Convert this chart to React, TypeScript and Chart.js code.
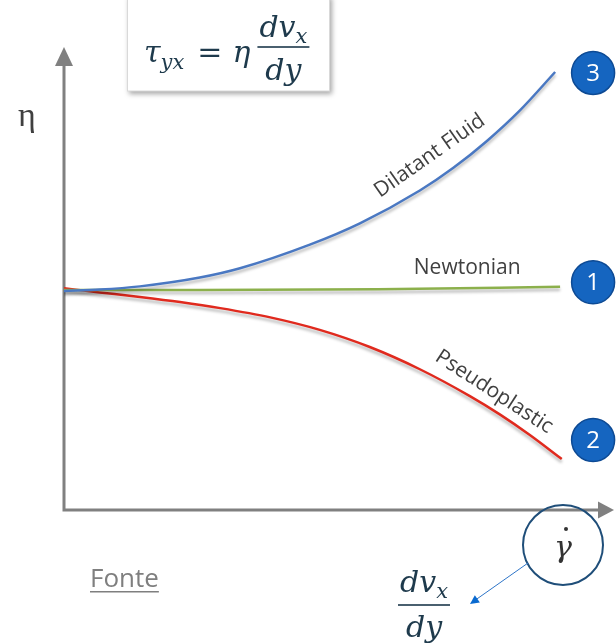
import React, { useEffect, useRef } from "react";
import { Chart, registerables } from "chart.js";

Chart.register(...registerables);

// Curve data (x: shear rate, y: viscosity), arbitrary units 0..100
const dilatantX = [0, 6.5, 13.8, 24.7, 32, 44.7, 53.8, 64.7, 70.8, 76.9, 82.9, 89.3];
const dilatantY = [47.3, 47.6, 48.3, 50.2, 52.2, 57.3, 61.9, 69.0, 73.9, 79.7, 86.3, 94.6];
const newtonianX = [0, 24.7, 57.1, 90.2];
const newtonianY = [47.5, 47.5, 47.7, 48.2];
const pseudoX = [0, 6.5, 13.8, 21.1, 28.4, 37.5, 46.5, 55.6, 64.7, 73.8, 79.3, 84.7, 90.5];
const pseudoY = [47.9, 47.0, 46.0, 44.9, 43.6, 41.6, 38.9, 35.2, 30.4, 24.6, 20.6, 16.2, 11.0];

// Annotation texts and their anchors in data units
const curveLabels = ["Dilatant Fluid", "Newtonian", "Pseudoplastic"];
const curveLabelX = [66.5, 73.3, 78.2];
const curveLabelY = [76.5, 52.3, 25.5];
const curveLabelAngle = [-35, 0, 33];
const badgeTexts = ["3", "1", "2"];
const badgeX = [96.2, 96.2, 96.2];
const badgeY = [94.4, 49.2, 15.1];
const yAxisLabel = "η";
const sourceLabel = "Fonte";

const MATH = "'DejaVu Serif', serif";
const SANS = "'Open Sans', 'Noto Sans', sans-serif";

type Run = { t: string; size: number; italic?: boolean; dy?: number; gap?: number };

function runsWidth(ctx: CanvasRenderingContext2D, runs: Run[]) {
  let w = 0;
  for (const r of runs) {
    ctx.font = `${r.italic ? "italic " : ""}${r.size}px ${MATH}`;
    w += ctx.measureText(r.t).width + (r.gap || 0);
  }
  return w;
}
function drawRuns(ctx: CanvasRenderingContext2D, x: number, y: number, runs: Run[]) {
  for (const r of runs) {
    ctx.font = `${r.italic ? "italic " : ""}${r.size}px ${MATH}`;
    ctx.fillText(r.t, x, y + (r.dy || 0));
    x += ctx.measureText(r.t).width + (r.gap || 0);
  }
  return x;
}
function drawFraction(ctx: CanvasRenderingContext2D, cx: number, barY: number, num: Run[], den: Run[], numBase: number, denBase: number) {
  const wn = runsWidth(ctx, num);
  const wd = runsWidth(ctx, den);
  const w = Math.max(wn, wd) + 4;
  drawRuns(ctx, cx - wn / 2, numBase, num);
  drawRuns(ctx, cx - wd / 2, denBase, den);
  ctx.fillRect(cx - w / 2, barY - 0.8, w, 1.6);
}

const decorPlugin = {
  id: "decor",
  beforeDatasetDraw(chart: any) {
    const ctx = chart.ctx;
    ctx.save();
    ctx.shadowColor = "rgba(0,0,0,0.28)";
    ctx.shadowBlur = 3;
    ctx.shadowOffsetY = 3;
  },
  afterDatasetDraw(chart: any) {
    chart.ctx.restore();
  },
  beforeDatasetsDraw(chart: any) {
    const ctx: CanvasRenderingContext2D = chart.ctx;
    const xs = chart.scales.x;
    const ys = chart.scales.y;
    const x0 = xs.getPixelForValue(0);
    const y0 = ys.getPixelForValue(0);
    const xt = xs.getPixelForValue(100);
    const yt = ys.getPixelForValue(100);
    ctx.save();
    ctx.strokeStyle = "#808080";
    ctx.fillStyle = "#808080";
    ctx.lineWidth = 3;
    ctx.beginPath();
    ctx.moveTo(x0, y0 + 1.5);
    ctx.lineTo(x0, yt + 18);
    ctx.moveTo(x0 - 1.5, y0);
    ctx.lineTo(xt - 15, y0);
    ctx.stroke();
    ctx.beginPath();
    ctx.moveTo(x0, yt);
    ctx.lineTo(x0 - 9, yt + 19);
    ctx.lineTo(x0 + 9, yt + 19);
    ctx.closePath();
    ctx.fill();
    ctx.beginPath();
    ctx.moveTo(xt, y0);
    ctx.lineTo(xt - 16, y0 - 8.5);
    ctx.lineTo(xt - 16, y0 + 8.5);
    ctx.closePath();
    ctx.fill();
    ctx.restore();
  },
  afterDraw(chart: any) {
    const ctx: CanvasRenderingContext2D = chart.ctx;
    const xs = chart.scales.x;
    const ys = chart.scales.y;
    ctx.save();

    // eta axis label
    ctx.fillStyle = "#404040";
    ctx.font = `34px 'Liberation Serif', serif`;
    ctx.textAlign = "center";
    ctx.textBaseline = "alphabetic";
    ctx.fillText(yAxisLabel, 27, 126);

    // formula box
    ctx.save();
    ctx.shadowColor = "rgba(0,0,0,0.35)";
    ctx.shadowBlur = 5;
    ctx.shadowOffsetX = 2;
    ctx.shadowOffsetY = 3;
    ctx.fillStyle = "#ffffff";
    ctx.fillRect(127, -5, 203, 96);
    ctx.restore();
    ctx.strokeStyle = "#d9d9d9";
    ctx.lineWidth = 1;
    ctx.strokeRect(127.5, -5, 202, 96);

    ctx.fillStyle = "#1e3a4c";
    ctx.textAlign = "left";
    const endX = drawRuns(ctx, 144, 62, [
      { t: "τ", size: 30, italic: true },
      { t: "yx", size: 21, italic: true, dy: 7, gap: 13 },
      { t: "=", size: 30, gap: 10 },
      { t: "η", size: 30, italic: true, gap: 7 },
    ]);
    const numRuns: Run[] = [
      { t: "dv", size: 30, italic: true },
      { t: "x", size: 21, italic: true, dy: 6 },
    ];
    const denRuns: Run[] = [{ t: "dy", size: 30, italic: true }];
    const fw = runsWidth(ctx, numRuns) + 4;
    drawFraction(ctx, endX + fw / 2, 47, numRuns, denRuns, 37, 80);

    // curve labels
    ctx.fillStyle = "#404040";
    ctx.textAlign = "center";
    ctx.textBaseline = "middle";
    ctx.font = `21px ${SANS}`;
    curveLabels.forEach((t, i) => {
      const px = xs.getPixelForValue(curveLabelX[i]);
      const py = ys.getPixelForValue(curveLabelY[i]);
      ctx.save();
      ctx.translate(px, py);
      ctx.rotate((curveLabelAngle[i] * Math.PI) / 180);
      ctx.fillText(t, 0, 0);
      ctx.restore();
    });

    // numbered badges
    badgeTexts.forEach((t, i) => {
      const px = xs.getPixelForValue(badgeX[i]);
      const py = ys.getPixelForValue(badgeY[i]);
      ctx.beginPath();
      ctx.arc(px, py, 21.5, 0, Math.PI * 2);
      ctx.fillStyle = "#1565c0";
      ctx.fill();
      ctx.strokeStyle = "#0d4a94";
      ctx.lineWidth = 1.5;
      ctx.stroke();
      ctx.fillStyle = "#ffffff";
      ctx.font = `24px ${SANS}`;
      ctx.fillText(t, px, py + 1);
    });

    // gamma-dot circle
    ctx.beginPath();
    ctx.ellipse(563, 545, 40, 40, 0, 0, Math.PI * 2);
    ctx.strokeStyle = "#1f4e79";
    ctx.lineWidth = 2;
    ctx.stroke();
    ctx.fillStyle = "#333333";
    ctx.font = `italic 30px ${MATH}`;
    ctx.textBaseline = "alphabetic";
    ctx.fillText("γ", 563, 557);
    ctx.beginPath();
    ctx.arc(566, 529, 2, 0, Math.PI * 2);
    ctx.fill();

    // pointer arrow
    ctx.strokeStyle = "#2e75c8";
    ctx.fillStyle = "#0a6ad0";
    ctx.lineWidth = 1;
    ctx.beginPath();
    ctx.moveTo(528, 563);
    ctx.lineTo(474, 601);
    ctx.stroke();
    const ang = Math.atan2(601 - 563, 474 - 528);
    ctx.beginPath();
    ctx.moveTo(470, 604);
    ctx.lineTo(470 - 10 * Math.cos(ang - 0.45), 604 - 10 * Math.sin(ang - 0.45));
    ctx.lineTo(470 - 10 * Math.cos(ang + 0.45), 604 - 10 * Math.sin(ang + 0.45));
    ctx.closePath();
    ctx.fill();

    // dv_x / dy fraction
    ctx.fillStyle = "#1e3a4c";
    ctx.textAlign = "left";
    drawFraction(ctx, 424, 605, numRuns, denRuns, 592, 637);

    // Fonte
    ctx.fillStyle = "#7f7f7f";
    ctx.font = `26px ${SANS}`;
    ctx.textAlign = "left";
    ctx.fillText(sourceLabel, 90, 587);
    const w = ctx.measureText(sourceLabel).width;
    ctx.fillRect(90, 591, w, 1.5);

    ctx.restore();
  },
};

function toPoints(xs: number[], ys: number[]) {
  return xs.map((x, i) => ({ x, y: ys[i] }));
}

export default function App() {
  const ref = useRef<HTMLCanvasElement>(null);
  useEffect(() => {
    if (!ref.current) return;
    const chart = new Chart(ref.current, {
      type: "line",
      data: {
        datasets: [
          {
            label: curveLabels[0],
            data: toPoints(dilatantX, dilatantY),
            borderColor: "#4a78c2",
            borderWidth: 2.5,
            pointRadius: 0,
            cubicInterpolationMode: "monotone",
          },
          {
            label: curveLabels[1],
            data: toPoints(newtonianX, newtonianY),
            borderColor: "#8cb04c",
            borderWidth: 2.5,
            pointRadius: 0,
            cubicInterpolationMode: "monotone",
          },
          {
            label: curveLabels[2],
            data: toPoints(pseudoX, pseudoY),
            borderColor: "#e02a1e",
            borderWidth: 2.5,
            pointRadius: 0,
            cubicInterpolationMode: "monotone",
          },
        ],
      },
      options: {
        responsive: false,
        animation: false,
        layout: { padding: { left: 64, right: 2, top: 47, bottom: 134 } },
        plugins: { legend: { display: false }, tooltip: { enabled: false } },
        scales: {
          x: { type: "linear", min: 0, max: 100, display: false },
          y: { type: "linear", min: 0, max: 100, display: false },
        },
        elements: { line: { fill: false } },
      } as any,
      plugins: [decorPlugin],
    });
    return () => chart.destroy();
  }, []);
  return (
    <div style={{ position: "absolute", left: 0, top: 0, width: 616, height: 644, background: "#fff" }}>
      <canvas ref={ref} width={616} height={644} style={{ display: "block" }} />
    </div>
  );
}
